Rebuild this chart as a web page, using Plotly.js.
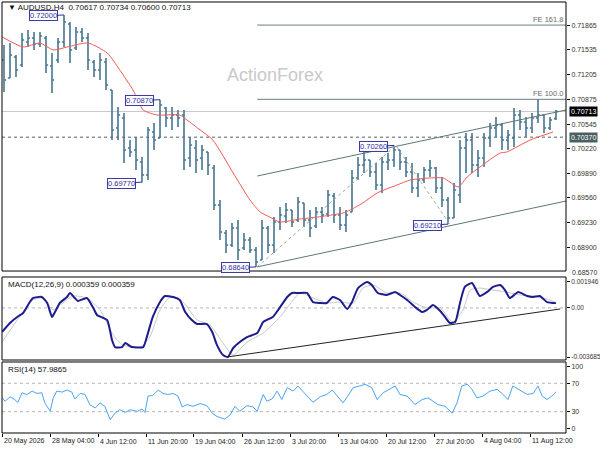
<!DOCTYPE html>
<html><head><meta charset="utf-8">
<script src="https://cdn.plot.ly/plotly-3.0.1.min.js"></script>
<style>html,body{margin:0;padding:0;background:#fff}#chart{width:600px;height:450px}</style>
</head><body><div id="chart"></div>
<script>
// ---------------- DATA ----------------
const chartTitle = '\u25BC AUDUSD.H4\u00a0\u00a00.70617 0.70734 0.70600 0.70713';
const macdTitle = 'MACD(12,26,9) 0.000359 0.000359';
const rsiTitle = 'RSI(14) 57.9865';
const watermark = 'ActionForex';

const timeLabels = ['20 May 2026','28 May 04:00','4 Jun 12:00','11 Jun 20:00','19 Jun 04:00','26 Jun 12:00',
  '3 Jul 20:00','13 Jul 04:00','20 Jul 12:00','27 Jul 20:00','4 Aug 04:00','11 Aug 12:00'];
const timeLabelBar = [-0.333, 7.667, 15.667, 23.667, 31.5, 39.667, 47.667, 55.667, 63.667, 71.667, 79.667, 87.667];

const barOpen = [0.71400,0.71160,0.71440,0.71333,0.71640,0.71693,0.71613,0.71693,0.71320,0.71400,
  0.71640,0.71880,0.71560,0.71773,0.71693,0.71373,0.71266,0.71373,0.71000,0.70493,
  0.70626,0.70226,0.70199,0.70039,0.69866,0.70439,0.70359,0.70759,0.70626,0.70666,
  0.70666,0.70092,0.70226,0.70092,0.70172,0.69959,0.69465,0.69092,0.68932,0.69159,
  0.68892,0.68999,0.68865,0.68733,0.69159,0.68932,0.69239,0.69319,0.69399,0.69265,
  0.69492,0.69265,0.69185,0.69372,0.69345,0.69585,0.69332,0.69199,0.69372,0.69826,
  0.69999,0.70066,0.69906,0.69732,0.70039,0.70066,0.70199,0.70039,0.69906,0.69692,
  0.69799,0.69932,0.69959,0.69692,0.69532,0.69292,0.69599,0.70226,0.70333,0.69999,
  0.70092,0.70359,0.70493,0.70533,0.70333,0.70359,0.70666,0.70573,0.70493,0.70626,
  0.70666,0.70493,0.70617];
const barHigh = [0.71600,0.71626,0.71466,0.71760,0.71800,0.71773,0.71773,0.71720,0.71493,0.71693,
  0.72000,0.71907,0.71840,0.71827,0.71760,0.71400,0.71493,0.71426,0.71000,0.70773,
  0.70693,0.70333,0.70373,0.70106,0.70506,0.70559,0.70870,0.70773,0.70773,0.70733,
  0.70733,0.70373,0.70333,0.70266,0.70172,0.69999,0.69532,0.69132,0.69225,0.69265,
  0.69092,0.69039,0.68906,0.69265,0.69185,0.69305,0.69439,0.69492,0.69399,0.69572,
  0.69492,0.69399,0.69439,0.69439,0.69666,0.69626,0.69439,0.69399,0.69932,0.70106,
  0.70199,0.70066,0.70026,0.70106,0.70159,0.70260,0.70199,0.70106,0.70026,0.69892,
  0.69972,0.70066,0.69972,0.69839,0.69572,0.69759,0.70333,0.70426,0.70426,0.70199,
  0.70426,0.70559,0.70639,0.70559,0.70466,0.70759,0.70733,0.70639,0.70693,0.70880,
  0.70666,0.70639,0.70734];
const barLow = [0.70973,0.71160,0.71173,0.71306,0.71573,0.71533,0.71573,0.71226,0.70960,0.71360,
  0.71573,0.71360,0.71533,0.71640,0.71266,0.71173,0.71133,0.71000,0.70333,0.70333,
  0.70026,0.70106,0.69932,0.69770,0.69799,0.70199,0.70359,0.70506,0.70466,0.70506,
  0.69932,0.69972,0.69892,0.69932,0.69866,0.69399,0.68999,0.68825,0.68906,0.68733,
  0.68865,0.68825,0.68640,0.68733,0.68825,0.68825,0.69132,0.69225,0.69172,0.69239,
  0.69172,0.69039,0.69159,0.69225,0.69305,0.69225,0.69132,0.69106,0.69372,0.69799,
  0.69892,0.69839,0.69666,0.69626,0.69932,0.69972,0.69932,0.69839,0.69626,0.69572,
  0.69759,0.69839,0.69626,0.69439,0.69210,0.69292,0.69492,0.69892,0.69892,0.69839,
  0.69972,0.70239,0.70373,0.70199,0.70199,0.70239,0.70466,0.70373,0.70426,0.70559,
  0.70426,0.70466,0.70600];
const barClose = [0.71133,0.71466,0.71266,0.71666,0.71693,0.71613,0.71720,0.71333,0.71133,0.71640,
  0.71907,0.71533,0.71773,0.71693,0.71400,0.71266,0.71400,0.71066,0.70466,0.70666,
  0.70199,0.70172,0.70066,0.69866,0.70466,0.70333,0.70799,0.70626,0.70666,0.70626,
  0.70066,0.70266,0.70066,0.70199,0.69999,0.69465,0.69106,0.68932,0.69159,0.68865,
  0.68999,0.68865,0.68706,0.69159,0.68932,0.69239,0.69332,0.69399,0.69239,0.69505,
  0.69265,0.69159,0.69372,0.69332,0.69599,0.69332,0.69199,0.69332,0.69826,0.69999,
  0.70066,0.69906,0.69732,0.70039,0.70066,0.70199,0.70039,0.69906,0.69692,0.69799,
  0.69932,0.69959,0.69692,0.69532,0.69292,0.69666,0.70226,0.70333,0.69999,0.70092,
  0.70359,0.70493,0.70533,0.70333,0.70399,0.70666,0.70573,0.70493,0.70626,0.70666,
  0.70493,0.70599,0.70713];

// moving average (red)
const maBar = [-0.3,3.2,6.0,8.2,10.5,14.0,17.2,19.3,21.5,23.2,25.5,29.3,30.5,32.7,34.8,38.2,41.0,42.7,44.3,46.0,
  49.3,52.2,56.5,57.7,59.8,62.2,65.5,67.7,71.0,73.2,74.3,75.7,77.2,79.3,82.7,83.8,87.7,91.5];
const maVal = [0.71707,0.71573,0.71626,0.71533,0.71573,0.71626,0.71493,0.71266,0.71000,0.70733,0.70666,0.70666,
  0.70599,0.70466,0.70333,0.69892,0.69532,0.69372,0.69305,0.69239,0.69279,0.69305,0.69359,0.69399,0.69492,
  0.69626,0.69732,0.69799,0.69826,0.69826,0.69772,0.69706,0.69839,0.69972,0.70159,0.70172,0.70333,0.70439];

// drawn objects
const lastPrice = 0.70713;
const supportLevel = 0.70370;
const feLevels = [0.71865, 0.70875];
const feNames = ['FE 161.8', 'FE 100.0'];
const feStartBar = 42.2;
const channelBars = [42.2, 93.7];
const channelUpper = [0.69852, 0.70733];
const channelLower = [0.68640, 0.69519];
const zigzagBars = [42.2, 65.3, 74.3];
const zigzagVals = [0.68640, 0.70260, 0.69210];
const pivotBars = [10, 26, 23, 42, 65, 74];
const pivotVals = [0.72000, 0.70870, 0.69770, 0.68640, 0.70260, 0.69210];
const priceTicks = [0.71865,0.71535,0.71205,0.70875,0.70545,0.70220,0.69890,0.69560,0.69230,0.68900];
const priceBottomLabel = '0.68570';

// MACD
const macdBar = [-0.3,1.0,2.2,3.2,4.3,4.8,6.3,7.2,8.0,8.5,9.3,10.5,11.0,11.8,12.3,13.8,14.8,15.5,17.2,18.0,
  18.5,19.7,20.2,21.3,23.2,23.8,24.8,26.0,26.8,28.2,29.3,30.2,31.3,32.2,33.8,34.7,35.5,36.5,37.3,38.2,
  39.3,40.5,42.2,43.2,44.8,45.7,47.2,48.0,49.0,50.5,51.5,52.7,53.8,54.8,56.0,57.2,58.0,59.0,60.5,61.3,
  62.3,63.8,65.2,66.0,67.2,68.5,69.7,70.5,71.5,72.7,73.5,74.3,75.2,76.0,76.8,78.0,79.3,80.5,81.5,82.7,
  83.5,84.3,85.7,87.2,88.2,89.3,90.5,92.0];
const macdVal = [-0.00179,-0.00113,-0.00068,-0.00038,0.00044,0.00074,0.00082,0.00037,-0.00068,-0.00031,
  0.00037,0.00082,0.00112,0.00074,0.00052,0.00074,0.00007,-0.00053,-0.00091,-0.00241,
  -0.00294,-0.00294,-0.00264,-0.00294,-0.00294,-0.00219,-0.00068,0.00044,0.00089,0.00082,
  0.00059,-0.00031,-0.00091,-0.00121,-0.00121,-0.00181,-0.00279,-0.00354,-0.003685,-0.00301,
  -0.00256,-0.00219,-0.00189,-0.00106,-0.00068,-0.00015,0.00082,0.00112,0.00112,0.00112,
  0.00044,0.00037,0.00037,0.00082,0.00059,-0.00008,0.00044,0.00149,0.001946,0.00172,
  0.00112,0.00097,0.00119,0.00097,0.00059,0.00007,-0.00031,-0.00015,0.00022,-0.00023,
  -0.00068,-0.00113,-0.00106,0.00037,0.00157,0.00187,0.00089,0.00119,0.00157,0.00172,
  0.00134,0.00074,0.00119,0.00089,0.00082,0.00089,0.00044,0.000359];
const signalBar = [-0.3,2.2,4.8,6.5,8.2,9.8,11.5,13.8,16.0,18.2,19.8,22.7,24.3,26.0,27.7,29.8,32.2,34.3,36.5,38.2,
  40.5,43.2,46.0,48.2,49.3,51.5,53.8,56.0,58.2,59.8,61.5,63.8,66.0,68.2,70.5,72.7,74.8,76.5,77.7,79.3,
  81.5,83.8,86.0,88.2,90.5,92.0];
const signalVal = [-0.00256,-0.00091,0.00059,0.00074,-0.00015,0.00037,0.00089,0.00074,-0.00015,-0.00204,
  -0.00279,-0.00294,-0.00219,-0.00015,0.00082,0.00044,-0.00091,-0.00128,-0.00264,-0.00354,
  -0.00256,-0.00189,-0.00068,0.00059,0.00112,0.00074,0.00037,0.00044,0.00037,0.00149,
  0.00172,0.00112,0.00112,0.00044,-0.00001,-0.00001,-0.00106,-0.00016,0.00134,0.00149,
  0.00134,0.00119,0.00097,0.00089,0.00067,0.00040];
const macdTrendBars = [37.2, 92.7];
const macdTrendVals = [-0.003685, -0.00008];
const macdTickVals = [0.001946, 0, -0.003685];
const macdTickText = ['0.001946', '0.00', '-0.003685'];

// RSI
const rsiBar = [-0.3,0.2,1.0,1.8,2.3,3.0,3.8,4.7,5.5,6.3,6.8,7.7,8.2,8.8,9.7,10.5,11.3,11.8,12.7,13.5,
  14.3,15.2,16.0,16.8,17.7,18.5,19.3,20.2,21.0,22.2,23.0,23.5,24.0,24.8,25.7,26.5,27.3,28.2,29.0,29.7,
  30.5,31.5,32.7,33.8,34.7,35.5,36.8,37.7,38.5,39.3,40.5,41.5,42.2,43.2,43.8,44.7,45.5,46.3,47.2,48.2,
  49.0,50.5,51.5,52.7,53.8,54.7,55.5,56.5,57.3,58.2,59.3,60.2,61.3,62.2,63.2,64.3,65.2,66.0,67.2,68.5,
  69.7,70.7,71.5,72.3,73.5,74.7,75.5,76.3,77.2,78.0,78.8,79.8,81.0,82.2,83.0,84.0,84.8,86.0,87.2,88.2,
  89.0,89.7,90.5,91.3,92.0];
const rsiVal = [49.5,44.8,51,47,43,56.7,54,59,55.7,56.7,42.4,30.5,49.5,59,57.6,60.5,57.6,48,55.7,54.3,
  40,35.2,42.4,37.6,18.6,28,32.8,29,32.8,30.5,33.8,29,51.9,52.9,60.5,55.7,54.3,55.7,51.9,36.7,
  40,37.6,41.4,38.6,28,23.3,19.5,25.7,37.6,30.5,38.6,36.7,30.5,54.3,44.8,48.1,59,47.1,63.8,59,
  66,51.9,43.3,51,54.3,60.5,51.9,42.4,51.9,63.8,66.2,68.6,63.8,47.1,56.7,61.4,66.2,54.3,51.9,40,
  47.1,49.5,44.8,40,37.6,28,42.4,66.2,68.6,61.4,49.5,51.9,59,61.4,55.7,47.1,66.2,60.5,54.3,55.7,
  66.2,51.9,47.1,51.9,57.99];
const rsiLevels = [70, 30];
const rsiTickVals = [93.5, 70, 30, 6.5];
const rsiTickText = ['100', '70', '30', '0'];

// ---------------- CHART ----------------
const FONT = '"Liberation Sans", Arial, sans-serif';
const BAR = '#48768f';
const idx = barClose.map((_, i) => i);

const traces = [
  {type:'ohlc', x: idx, open: barOpen, high: barHigh, low: barLow, close: barClose,
   xaxis:'x', yaxis:'y3', tickwidth:0.35, hoverinfo:'skip',
   increasing:{line:{color:BAR, width:1.6}}, decreasing:{line:{color:BAR, width:1.6}}},
  {type:'scatter', mode:'lines', x: maBar, y: maVal, xaxis:'x', yaxis:'y3',
   line:{color:'#f25a55', width:1, shape:'spline', smoothing:0.6}, hoverinfo:'skip'},
  {type:'scatter', mode:'lines', x: channelBars, y: channelUpper, xaxis:'x', yaxis:'y3',
   line:{color:'#5f7777', width:1}, hoverinfo:'skip'},
  {type:'scatter', mode:'lines', x: channelBars, y: channelLower, xaxis:'x', yaxis:'y3',
   line:{color:'#5f7777', width:1}, hoverinfo:'skip'},
  {type:'scatter', mode:'lines', x: zigzagBars, y: zigzagVals, xaxis:'x', yaxis:'y3',
   line:{color:'#9aa5a5', width:1, dash:'3px,3px'}, hoverinfo:'skip'},
  {type:'scatter', mode:'lines', x: [feStartBar, 93.7], y: [feLevels[0], feLevels[0]], xaxis:'x', yaxis:'y3',
   line:{color:'#6f7f80', width:1}, hoverinfo:'skip'},
  {type:'scatter', mode:'lines', x: [feStartBar, 93.7], y: [feLevels[1], feLevels[1]], xaxis:'x', yaxis:'y3',
   line:{color:'#6f7f80', width:1}, hoverinfo:'skip'},
  {type:'scatter', mode:'lines', x: signalBar, y: signalVal, xaxis:'x', yaxis:'y2',
   line:{color:'#c8c8c8', width:1, shape:'spline', smoothing:0.6}, hoverinfo:'skip'},
  {type:'scatter', mode:'lines', x: macdBar, y: macdVal, xaxis:'x', yaxis:'y2',
   line:{color:'#1c1c8e', width:2, shape:'spline', smoothing:0.5}, hoverinfo:'skip'},
  {type:'scatter', mode:'lines', x: macdTrendBars, y: macdTrendVals, xaxis:'x', yaxis:'y2',
   line:{color:'#222', width:1}, hoverinfo:'skip'},
  {type:'scatter', mode:'lines', x: rsiBar, y: rsiVal, xaxis:'x', yaxis:'y',
   line:{color:'#4aa3f5', width:1}, hoverinfo:'skip'}
];

const tickFont = {family: FONT, size: 7, color: '#333'};
const yCommon = {side:'right', anchor:'x', showgrid:false, zeroline:false, showline:false,
  ticks:'outside', ticklen:3, tickcolor:'#000', tickfont: tickFont, fixedrange:true};

const shapes = [];
['y', 'y2', 'y3'].forEach(a => shapes.push({type:'rect', xref:'paper', yref:a + ' domain',
  x0:0, x1:1, y0:0, y1:1, line:{color:'#000', width:1}, layer:'above'}));
shapes.push({type:'line', xref:'paper', yref:'y3', x0:0, x1:1, y0:lastPrice, y1:lastPrice,
  line:{color:'#c8c8c8', width:1}, layer:'below'});
shapes.push({type:'line', xref:'paper', yref:'y3', x0:0, x1:1, y0:supportLevel, y1:supportLevel,
  line:{color:'#4d6666', width:1, dash:'3px,3px'}, layer:'below'});
shapes.push({type:'line', xref:'paper', yref:'y2', x0:0, x1:1, y0:0, y1:0,
  line:{color:'#b5b5b5', width:1, dash:'3px,3px'}, layer:'below'});
rsiLevels.forEach(v => shapes.push({type:'line', xref:'paper', yref:'y', x0:0, x1:1, y0:v, y1:v,
  line:{color:'#b5b5b5', width:1, dash:'3px,3px'}, layer:'below'}));

const annotations = [];
const txt = (o) => Object.assign({showarrow:false, font:{family:FONT, size:8, color:'#111'}}, o);
annotations.push(txt({text: chartTitle, xref:'paper', yref:'y3 domain', x:0, y:1, xshift:4, yshift:-6,
  xanchor:'left', yanchor:'middle'}));
annotations.push(txt({text: macdTitle, xref:'paper', yref:'y2 domain', x:0, y:1, xshift:4, yshift:-8,
  xanchor:'left', yanchor:'middle'}));
annotations.push(txt({text: rsiTitle, xref:'paper', yref:'y domain', x:0, y:1, xshift:4, yshift:-8,
  xanchor:'left', yanchor:'middle'}));
annotations.push({text: watermark, xref:'paper', yref:'y3 domain', x:0.484, y:0.773, showarrow:false,
  font:{family:'"Liberation Sans", Arial, sans-serif', size:18, color:'#c9c9c9'}});
timeLabels.forEach((t, k) => annotations.push(txt({text:t, xref:'x', yref:'y domain', x: timeLabelBar[k], y:0,
  yshift:-8, xshift:0, xanchor:'left', yanchor:'middle', font:{family:FONT, size:7, color:'#222'}})));
feNames.forEach((t, k) => annotations.push(txt({text:t, xref:'paper', yref:'y3', x:1, y:feLevels[k],
  xanchor:'right', yanchor:'bottom', xshift:-1, yshift:-1, font:{family:FONT, size:7.5, color:'#6a6a6a'}})));
pivotBars.forEach((b, k) => annotations.push({x:b, y:pivotVals[k], xref:'x', yref:'y3',
  text: pivotVals[k].toFixed(5), showarrow:true, arrowhead:0, arrowwidth:1, arrowcolor:'#2f2f9a',
  ax:-21, ay:1, standoff:0, font:{family:FONT, size:7.5, color:'#2f2fa0'}, bordercolor:'#3a3aa8',
  borderwidth:1, borderpad:0, bgcolor:'rgba(255,255,255,0.9)'}));
annotations.push(txt({text: lastPrice.toFixed(5), xref:'paper', yref:'y3', x:1, y:lastPrice, xanchor:'left',
  xshift:3, bgcolor:'#000', borderpad:1, font:{family:FONT, size:7, color:'#fff'}}));
annotations.push(txt({text: supportLevel.toFixed(5), xref:'paper', yref:'y3', x:1, y:supportLevel, xanchor:'left',
  xshift:3, bgcolor:'#4a6060', borderpad:1, font:{family:FONT, size:7, color:'#fff'}}));
annotations.push(txt({text: priceBottomLabel, xref:'paper', yref:'y3 domain', x:1, y:0, xanchor:'left',
  yanchor:'middle', xshift:4, yshift:-1, font:{family:FONT, size:7, color:'#333'}}));

const layout = {
  width:600, height:450,
  margin:{l:2, r:34, t:1, b:16},
  paper_bgcolor:'#fff', plot_bgcolor:'#fff',
  showlegend:false,
  font:{family:FONT, size:7, color:'#333'},
  xaxis:{range:[-0.333, 93.667], anchor:'y', showgrid:false, zeroline:false, showline:false,
    ticks:'outside', ticklen:3, tickcolor:'#000', tickvals: timeLabelBar, showticklabels:false,
    rangeslider:{visible:false}, fixedrange:true},
  yaxis: Object.assign({}, yCommon, {domain:[0.0023, 0.1663], range:[0, 100],
    tickvals: rsiTickVals, ticktext: rsiTickText}),
  yaxis2: Object.assign({}, yCommon, {domain:[0.1709, 0.3626], range:[-0.00391, 0.00232],
    tickvals: macdTickVals, ticktext: macdTickText, tickfont:{family:FONT, size:6.5, color:'#333'}}),
  yaxis3: Object.assign({}, yCommon, {domain:[0.3764, 0.9977], range:[0.68585, 0.72173],
    tickvals: priceTicks, tickformat:'.5f'}),
  shapes: shapes,
  annotations: annotations
};

Plotly.newPlot('chart', traces, layout, {displayModeBar:false, staticPlot:true});
</script></body></html>
